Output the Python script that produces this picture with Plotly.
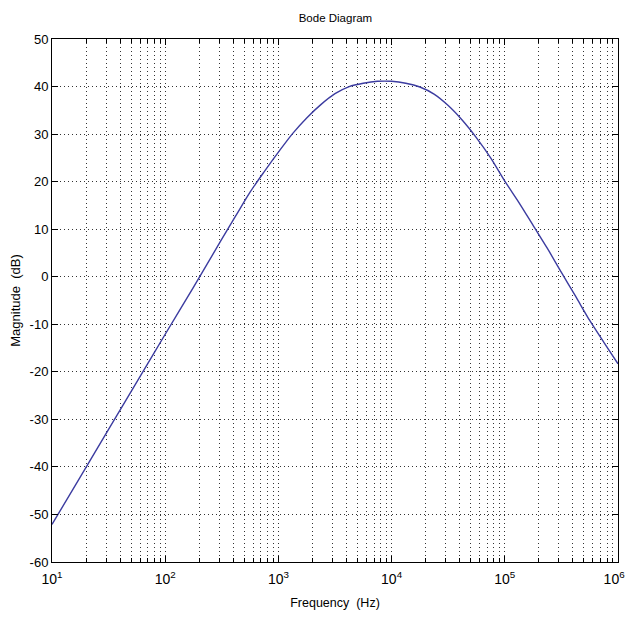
import plotly.graph_objects as go

freq_hz = [10, 17.8, 31.6, 56.2, 100, 178, 316, 422, 562, 750, 1000, 1334,
           1778, 2371, 3162, 4217, 5623, 7499, 10000, 13335, 17783, 23714,
           31623, 42170, 56234, 74989, 100000, 133352, 177828, 237137,
           316228, 421697, 562341, 749894, 1000000]
mag_db = [-52.1, -42.1, -32.1, -22.1, -12.1, -2.2, 7.9, 12.9, 17.8, 22.1,
          26.2, 30.1, 33.4, 36.2, 38.5, 40.0, 40.7, 41.1, 41.1, 40.7, 39.9,
          38.4, 36.0, 32.9, 29.2, 25.0, 20.1, 15.6, 10.8, 6.0, 0.9, -4.1,
          -9.2, -13.8, -18.3]

major_x = [10, 100, 1000, 10000, 100000, 1000000]
major_x_text = ["10<sup>1</sup>", "10<sup>2</sup>", "10<sup>3</sup>",
                "10<sup>4</sup>", "10<sup>5</sup>", "10<sup>6</sup>&nbsp;&nbsp;"]
minor_x = [m * d for d in [10, 100, 1000, 10000, 100000] for m in range(2, 10)]
y_ticks = [-60, -50, -40, -30, -20, -10, 0, 10, 20, 30, 40, 50]
y_text = ["-60", "-50", "-40", "-30", "-20", "-10", "0", "10", "20", "30", "40", "50"]

grid_col = "#333333"
font_fam = "Liberation Sans, Arial, sans-serif"

fig = go.Figure()
fig.add_trace(go.Scatter(x=freq_hz, y=mag_db, mode="lines",
                         line=dict(color="#3c3ca0", width=1.4, shape="spline", smoothing=0.8),
                         showlegend=False))

fig.update_layout(
    width=627, height=627,
    margin=dict(l=51.5, r=9, t=38.5, b=65, autoexpand=False),
    paper_bgcolor="white", plot_bgcolor="white",
    font=dict(family=font_fam, size=12, color="black"),
    title=dict(text="Bode Diagram", x=0.535, xanchor="center", y=0.972, yanchor="middle",
               font=dict(size=11.5, family=font_fam)),
)
fig.update_xaxes(
    type="log", range=[1, 6],
    tickmode="array", tickvals=major_x, ticktext=major_x_text,
    ticks="inside", ticklen=6, tickcolor="black",
    showline=True, linecolor="black", linewidth=1, mirror="ticks",
    showgrid=True, gridcolor=grid_col, griddash="1px,3px", gridwidth=1,
    minor=dict(tickmode="array", tickvals=minor_x, ticks="inside", ticklen=4,
               tickcolor="black", showgrid=True, gridcolor=grid_col,
               griddash="1px,3px", gridwidth=1),
    tickfont=dict(size=14),
    ticklabeloverflow="allow",
    ticklabelstandoff=4,
    automargin=False,
    title=dict(text="Frequency  (Hz)", font=dict(size=12.5), standoff=12),
    zeroline=False,
)
fig.update_yaxes(
    range=[-60, 50], tickmode="array", tickvals=y_ticks, ticktext=y_text,
    ticks="inside", ticklen=6, tickcolor="black",
    showline=True, linecolor="black", linewidth=1, mirror="ticks",
    showgrid=True, gridcolor=grid_col, griddash="1px,3px", gridwidth=1,
    tickfont=dict(size=13),
    automargin=False,
    title=dict(text="Magnitude  (dB)", font=dict(size=13), standoff=6),
    zeroline=False,
)

fig.write_html("out.html")
